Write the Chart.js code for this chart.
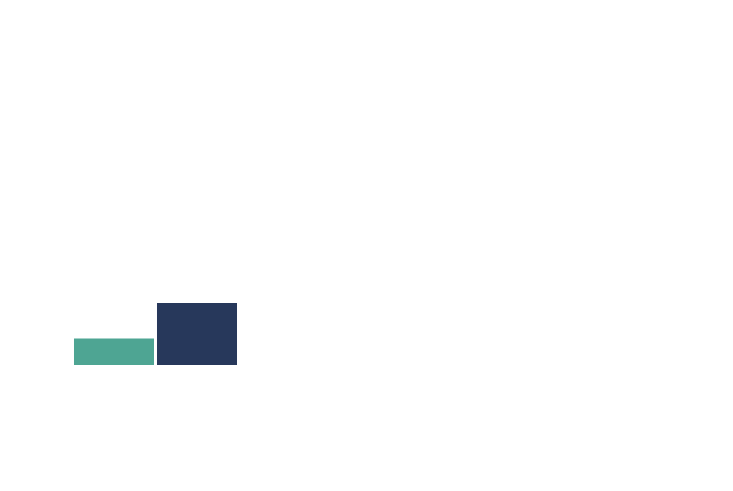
<!DOCTYPE html>
<html>
<head>
<meta charset="utf-8">
<script src="https://cdn.jsdelivr.net/npm/chart.js@4"></script>
<style>
  html, body { margin: 0; padding: 0; background: #ffffff; }
  #wrap { width: 733px; height: 491px; }
</style>
</head>
<body>
<div id="wrap"><canvas id="myChart" width="733" height="491"></canvas></div>
<script>
// data
var categories = [""];
var seriesA = [12];   // green bar
var seriesB = [28];   // navy bar
var yMax = 100;

var colorA = "#4ea593";
var colorB = "#27385b";

var ctx = document.getElementById('myChart').getContext('2d');
var chart = new Chart(ctx, {
	type: 'bar',
	data: {
		labels: categories,
		datasets: [{
			label: "A",
			data: seriesA,
			backgroundColor: colorA,
			borderWidth: 0,
			barPercentage: 0.964,
			categoryPercentage: 1
		}, {
			label: "B",
			data: seriesB,
			backgroundColor: colorB,
			borderWidth: 0,
			barPercentage: 0.964,
			categoryPercentage: 1
		}]
	},
	options: {
		responsive: false,
		animation: false,
		layout: {
			padding: { left: 72.5, right: 494.5, top: 144, bottom: 126 }
		},
		plugins: {
			legend: { display: false },
			tooltip: { enabled: false }
		},
		scales: {
			x: { display: false },
			y: { display: false, min: 0, max: yMax }
		}
	}
});
</script>
</body>
</html>
